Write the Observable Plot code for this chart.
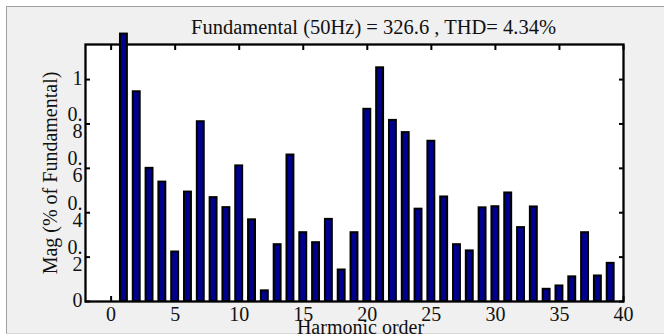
<!DOCTYPE html>
<html><head><meta charset="utf-8">
<script src="https://cdn.jsdelivr.net/npm/d3@7"></script>
<script src="https://cdn.jsdelivr.net/npm/@observablehq/plot@0.6"></script>
<style>
html,body{margin:0;padding:0;background:#fff;}
#wrap{position:relative;width:664px;height:335px;overflow:hidden;}
#bg{position:absolute;left:6px;top:6px;right:0;bottom:1px;background:#f0f0f0;border-top:1px solid #a0a0a0;border-left:1px solid #a0a0a0;border-bottom:1px solid #d8d8d8;}
#chart{position:absolute;left:0;top:0;}
</style></head>
<body><div id="wrap"><div id="bg"></div><div id="chart"></div></div>
<script>
const orders = [0,1,2,3,4,5,6,7,8,9,10,11,12,13,14,15,16,17,18,19,20,21,22,23,24,25,26,27,28,29,30,31,32,33,34,35,36,37,38,39];
const mags = [0,1.205,0.945,0.6,0.538,0.223,0.493,0.81,0.468,0.423,0.611,0.368,0.048,0.256,0.66,0.31,0.265,0.37,0.142,0.31,0.866,1.053,0.816,0.761,0.416,0.722,0.471,0.256,0.228,0.422,0.427,0.489,0.333,0.426,0.055,0.07,0.111,0.31,0.115,0.172];
const xTicks = [0,5,10,15,20,25,30,35,40];
const yTicks = [0,0.2,0.4,0.6,0.8,1];
const yTickLabels = ["0","0.\n2","0.\n4","0.\n6","0.\n8","1"];
const titleText = "Fundamental (50Hz) = 326.6 , THD= 4.34%";
const xLabel = "Harmonic order";
const yLabel = "Mag (% of Fundamental)";

const data = orders.map((h, i) => ({h, m: mags[i]}));

const plot = Plot.plot({
  width: 664, height: 335,
  marginLeft: 85, marginRight: 41, marginTop: 44, marginBottom: 34,
  style: {background: "transparent", fontFamily: "'Liberation Serif', 'Times New Roman', serif", fontSize: "20px", color: "#111", overflow: "visible"},
  x: {domain: [-2, 40]},
  y: {domain: [0, 1.158]},
  marks: [
    Plot.frame({fill: "white", stroke: "none"}),
    Plot.axisY(yTicks, {anchor: "left", tickSize: 5, dx: 5, tickFormat: () => "", label: null, strokeWidth: 2, stroke: "#000"}),
    Plot.axisY(yTicks, {anchor: "right", tickSize: 5, dx: -5, tickFormat: () => "", label: null, strokeWidth: 2, stroke: "#000"}),
    Plot.axisX(xTicks, {anchor: "top", tickSize: 5, dy: 5, tickFormat: () => "", label: null, strokeWidth: 2, stroke: "#000"}),
    Plot.axisX(xTicks, {anchor: "bottom", tickSize: 5, dy: -5, tickFormat: () => "", label: null, strokeWidth: 2, stroke: "#000"}),
    Plot.axisY(yTicks, {anchor: "left", tickSize: 0, tickPadding: 3, tickFormat: d => yTickLabels[yTicks.indexOf(d)], lineHeight: 0.85, label: null, fontSize: 20}),
    Plot.axisX(xTicks, {anchor: "bottom", tickSize: 0, tickPadding: 5, label: null, fontSize: 20}),
    Plot.frame({stroke: "#000", strokeWidth: 2.3}),
    Plot.rectY(data, {x1: d => d.h - 0.27, x2: d => d.h + 0.27, y: "m", fill: "#00008f", stroke: "#000", strokeWidth: 2}),
    Plot.text([titleText], {text: d => d, frameAnchor: "top", textAnchor: "middle", lineAnchor: "middle", dx: 19, dy: -17.5, fontSize: 20.5}),
    Plot.text([yLabel], {text: d => d, frameAnchor: "left", textAnchor: "middle", lineAnchor: "middle", rotate: -90, dx: -35, fontSize: 20}),
    Plot.text([xLabel], {text: d => d, frameAnchor: "bottom", textAnchor: "middle", lineAnchor: "middle", dx: 6, dy: 26, fontSize: 20})
  ]
});
document.getElementById("chart").appendChild(plot);
</script>
</body></html>
